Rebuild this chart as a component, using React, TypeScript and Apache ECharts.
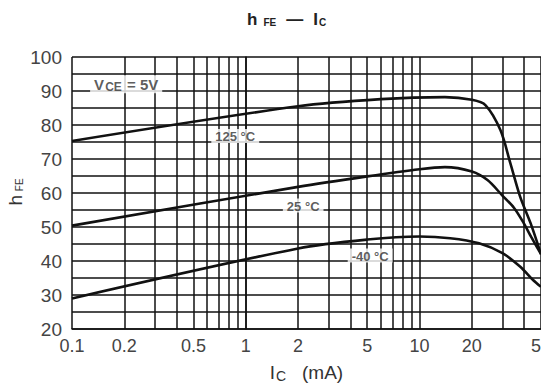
import React, { useEffect, useRef } from "react";
import * as echarts from "echarts";

// Collector current (mA) tick labels and log grid lines
const xTickLabels = [0.1, 0.2, 0.5, 1, 2, 5, 10, 20, 50];
const xGridValues = [0.1, 0.2, 0.3, 0.4, 0.5, 0.6, 0.7, 0.8, 0.9, 1, 2, 3, 4, 5, 6, 7, 8, 9, 10, 20, 30, 40, 50];

// hFE curves
const current125 = [0.1, 2, 6, 14, 20, 24, 29.2, 33.3, 38, 43.5, 50];
const hfe125 = [75.3, 85.5, 87.6, 88.2, 87.4, 85.8, 78.5, 68.8, 58.8, 51.2, 42];

const current25 = [0.1, 2, 5, 10, 14, 20, 24.6, 29.8, 35, 39.7, 44, 50];
const hfe25 = [50.4, 61.8, 64.9, 67, 67.6, 66.3, 63.8, 59.4, 55.6, 51.2, 47, 42];

const currentM40 = [0.1, 2, 5, 10, 15, 22, 30, 38, 45, 50];
const hfeM40 = [29, 43.7, 46.3, 47.2, 46.7, 45.2, 42.3, 38.3, 34.4, 32.4];

// Annotation anchors (mA, hFE)
const annotations = [
  { text: "{v|V}{s|CE}{v| = 5V}", i: 0.205, h: 92 },
  { text: "{t|125 °C}", i: 0.87, h: 76.8 },
  { text: "{t|25 °C}", i: 2.14, h: 56.3 },
  { text: "{t|-40 °C}", i: 5.2, h: 41.6 },
];

const FONT = "'Liberation Sans', Arial, sans-serif";
const toLog = (v: number) => Math.log10(v);
const fmt = (v: number) => {
  let best = xTickLabels[0];
  for (const t of xTickLabels) if (Math.abs(Math.log10(t) - v) < Math.abs(Math.log10(best) - v)) best = t;
  return Math.abs(Math.log10(best) - v) < 1e-6 ? String(best) : "";
};

const curve = (xs: number[], ys: number[]) => xs.map((x, k) => [toLog(x), ys[k]]);

export default function App() {
  const ref = useRef<HTMLDivElement>(null);
  useEffect(() => {
    if (!ref.current) return;
    const chart = echarts.init(ref.current, null, { renderer: "svg" });
    const lineStyle = { color: "#111", width: 2.6 };
    const richLabel = {
      v: { fontSize: 15, fontWeight: "bold", color: "#333", fontFamily: FONT },
      s: { fontSize: 12, fontWeight: "bold", color: "#333", fontFamily: FONT, padding: [5, 1, 0, 1] },
      t: { fontSize: 13, fontWeight: "bold", color: "#333", fontFamily: FONT },
    };
    chart.setOption({
      animation: false,
      backgroundColor: "#fff",
      textStyle: { fontFamily: FONT },
      title: {
        text: "{h|h} {s|FE}  {h|—}  {h|I}{s|C}",
        left: 242,
        top: 5,
        textStyle: {
          rich: {
            h: { fontSize: 17, color: "#222", fontFamily: FONT, fontWeight: "bold" },
            s: { fontSize: 10, color: "#222", fontFamily: FONT, fontWeight: "bold", padding: [6, 0, 0, 1] },
          },
        },
      },
      grid: { left: 72, right: 0, top: 57, bottom: 58, containLabel: false, outerBoundsMode: "none" },
      xAxis: {
        type: "value",
        min: -1,
        max: toLog(50),
        name: "{i|I}{c|C}{i|   (mA)}",
        nameLocation: "middle",
        nameGap: 33,
        nameTextStyle: {
          rich: {
            i: { fontSize: 19, color: "#333", fontFamily: FONT },
            c: { fontSize: 14, color: "#333", fontFamily: FONT, padding: [7, 0, 0, 1] },
          },
        },
        axisLine: { show: true, lineStyle: { color: "#111", width: 1.5 } },
        axisTick: { show: false, customValues: xGridValues.map(toLog) },
        axisLabel: {
          customValues: xTickLabels.map(toLog),
          formatter: (v: number) => fmt(v),
          fontSize: 18,
          color: "#444",
          margin: 8,
          showMinLabel: true,
          showMaxLabel: true,
          hideOverlap: false,
        },
        splitLine: { show: true, lineStyle: { color: "#111", width: 1.5 } },
      },
      yAxis: {
        type: "value",
        min: 20,
        max: 100,
        interval: 5,
        axisLine: { show: true, lineStyle: { color: "#111", width: 1.5 } },
        axisTick: { show: false },
        axisLabel: {
          formatter: (v: number) => (v % 10 === 0 ? String(v) : ""),
          fontSize: 19,
          color: "#444",
          margin: 10,
        },
        splitLine: { show: true, lineStyle: { color: "#111", width: 1.5 } },
      },
      graphic: [
        {
          type: "text",
          x: 15,
          y: 192,
          rotation: Math.PI / 2,
          style: {
            text: "{h|h}{s| FE}",
            align: "center",
            verticalAlign: "middle",
            rich: {
              h: { fontSize: 19, fill: "#333", fontFamily: FONT },
              s: { fontSize: 10, fill: "#333", fontFamily: FONT, padding: [8, 0, 0, 1] },
            },
          },
        },
      ],
      series: [
        { name: "125 °C", type: "line", data: curve(current125, hfe125), smooth: 0.3, showSymbol: false, lineStyle, z: 3 },
        { name: "25 °C", type: "line", data: curve(current25, hfe25), smooth: 0.3, showSymbol: false, lineStyle, z: 3 },
        { name: "-40 °C", type: "line", data: curve(currentM40, hfeM40), smooth: 0.3, showSymbol: false, lineStyle, z: 3 },
        {
          name: "labels",
          type: "scatter",
          symbolSize: 0,
          z: 10,
          silent: true,
          data: annotations.map((a) => ({ value: [toLog(a.i), a.h], label: { formatter: a.text } })),
          label: {
            show: true,
            position: "inside",
            backgroundColor: "#fff",
            padding: [1, 4, 0, 4],
            rich: richLabel,
          },
        },
      ],
    });
    return () => chart.dispose();
  }, []);
  return <div ref={ref} style={{ width: 541, height: 387, position: "absolute", left: 0, top: 0 }} />;
}
